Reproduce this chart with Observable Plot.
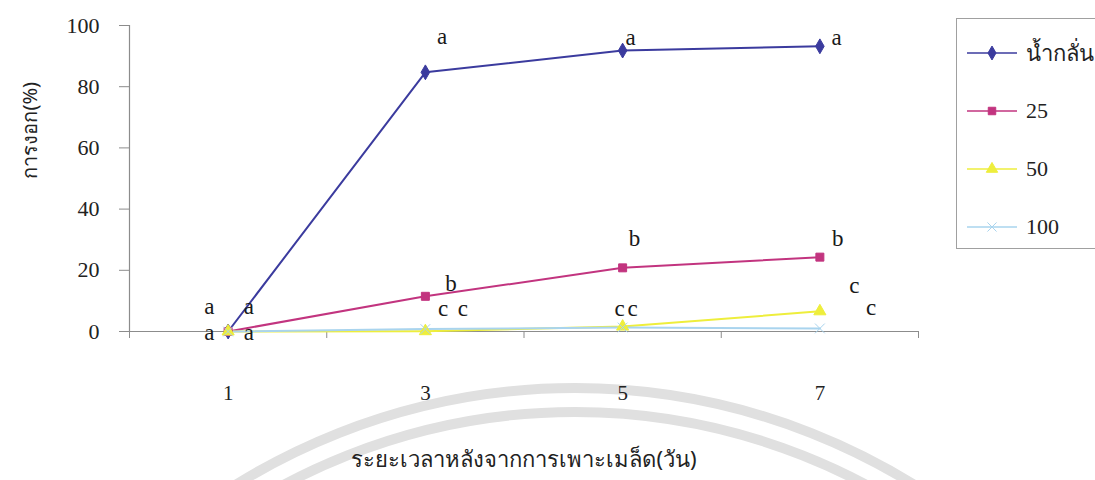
<!DOCTYPE html>
<html><head><meta charset="utf-8">
<script src="https://cdn.jsdelivr.net/npm/d3@7"></script>
<script src="https://cdn.jsdelivr.net/npm/@observablehq/plot@0.6"></script>
<style>
html,body{margin:0;padding:0;background:#fff;overflow:hidden;width:1095px;height:480px}
#wrap{position:relative;width:1095px;height:480px;overflow:hidden}
#legend{position:absolute;left:956px;top:18px;width:230px;height:231px;border:1px solid #a0a0a0;border-right:none;box-sizing:border-box;background:#fff;font-family:"Liberation Serif","Noto Sans",serif;font-size:22px;color:#222}
.item{position:absolute;left:10px;height:26px;display:flex;align-items:center;white-space:nowrap}
.item svg{margin-right:9px}
</style></head>
<body><div id="wrap"><div id="chart"></div><div id="legend"></div></div>
<script>
// ---- data ----
const days = [1, 3, 5, 7];
const seriesNames = ["น้ำกลั่น", "25", "50", "100"];
const water = [0, 84.7, 91.8, 93.2];
const conc25 = [0, 11.5, 20.8, 24.3];
const conc50 = [0, 0.1, 1.6, 6.6];
const conc100 = [0, 0.8, 1.3, 1.0];
const yTicks = [0, 20, 40, 60, 80, 100];
const xBoundaries = [0, 2, 4, 6, 8];
const yTitle = "การงอก(%)";
const xTitle = "ระยะเวลาหลังจากการเพาะเมล็ด(วัน)";
// significance letters (x in days, y in %)
const letterText = ["a","a","a","a", "a","b","c","c", "a","b","c","c", "a","b","c","c"];
const letterX    = [0.81,1.21,0.81,1.21, 3.17,3.26,3.18,3.38, 5.08,5.12,4.97,5.10, 7.17,7.18,7.35,7.52];
const letterY    = [8.2,8.2,-0.3,-0.3, 96.5,15.5,7.5,7.5, 96,30.4,7.5,7.5, 96,30.4,15,7.8];

const colors = ["#3b3b9e", "#c2347f", "#eeee3c", "#a9d4ee"];
const symbols = ["diamond", "square", "triangle", "times"];

const allValues = [water, conc25, conc50, conc100];
const rows = [];
seriesNames.forEach((s, i) => days.forEach((d, j) => rows.push({series: s, day: d, value: allValues[i][j]})));
const letters = letterText.map((t, i) => ({t, x: letterX[i], y: letterY[i]}));

const axisColor = "#8c8c8c";
const plot = Plot.plot({
  width: 1095, height: 480,
  marginLeft: 129, marginRight: 177, marginTop: 25, marginBottom: 149,
  style: {fontFamily: "'Liberation Serif', serif", fontSize: "20px", color: "#222", background: "transparent"},
  x: {domain: [0, 8], axis: null},
  y: {domain: [0, 100], axis: null},
  color: {domain: seriesNames, range: colors},
  symbol: {domain: seriesNames, range: symbols},
  marks: [
    Plot.ruleX([0], {stroke: axisColor, strokeWidth: 1.2}),
    Plot.ruleY([0], {stroke: axisColor, strokeWidth: 1.2}),
    Plot.axisY({ticks: yTicks, tickSize: 10, tickPadding: 20, stroke: axisColor, fontSize: 22, label: null}),
    Plot.axisX({ticks: xBoundaries, tickSize: 7, tickFormat: () => "", stroke: axisColor, label: null}),
    Plot.axisX({ticks: days, tickSize: 0, tickPadding: 54, fontSize: 21, label: null, tickFormat: d => String(d)}),
    Plot.line(rows, {x: "day", y: "value", z: "series", stroke: "series", strokeWidth: 2}),
    Plot.dot(rows, {x: "day", y: "value", symbol: "series", fill: "series", stroke: "series", r: 4.5, strokeWidth: 1}),
    Plot.text(letters, {x: "x", y: "y", text: "t", fontSize: 23, fill: "#1a1a1a"}),
    Plot.text([yTitle], {frameAnchor: "left", dx: -99, rotate: -90, fontSize: 20, fontFamily: "'Noto Sans', sans-serif", fill: "#222"}),
    Plot.text([xTitle], {frameAnchor: "bottom", dy: 135, fontSize: 22, fontFamily: "'Noto Sans', sans-serif", fill: "#222"})
  ]
});
document.getElementById("chart").appendChild(plot);

// faint watermark rings from the scanned page
const svg = d3.select(plot);
const wm = svg.insert("g", ":first-child");
[642, 618].forEach(r => wm.append("circle").attr("cx", 575).attr("cy", 1030).attr("r", r)
  .attr("fill", "none").attr("stroke", "#e0e0e0").attr("stroke-width", 10));

// legend
const legend = d3.select("#legend");
const itemY = [34, 92, 150, 208];
const symMap = {diamond: d3.symbolDiamond, square: d3.symbolSquare, triangle: d3.symbolTriangle, times: d3.symbolTimes};
seriesNames.forEach((s, i) => {
  const it = legend.append("div").attr("class", "item").style("top", (itemY[i] - 13) + "px");
  const sv = it.append("svg").attr("width", 50).attr("height", 16);
  sv.append("line").attr("x1", 0).attr("x2", 50).attr("y1", 8).attr("y2", 8).attr("stroke", colors[i]).attr("stroke-width", 1.6);
  sv.append("path").attr("transform", "translate(25,8)").attr("d", d3.symbol(symMap[symbols[i]], 56)())
    .attr("fill", colors[i]).attr("stroke", colors[i]);
  it.append("span").text(s);
});
</script>
</body></html>
